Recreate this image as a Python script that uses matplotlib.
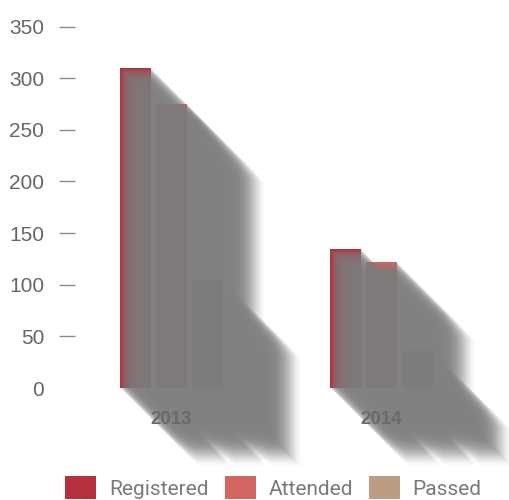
import numpy as np
import matplotlib
matplotlib.use("Agg")
import matplotlib.pyplot as plt
from matplotlib import font_manager

years = ["2013", "2014"]
series_names = ["Registered", "Attended", "Passed"]
registered = [310, 135]
attended = [275, 122]
passed = [105, 36]
series_colors = ["#B3303F", "#D26661", "#BD9C84"]

W, H = 510, 500

# pick a narrow face if the system has one
installed = {f.name for f in font_manager.fontManager.ttflist}
narrow = "Liberation Sans Narrow" if "Liberation Sans Narrow" in installed else "Roboto"
plt.rcParams["font.family"] = [narrow, "DejaVu Sans"]

fig = plt.figure(figsize=(W / 100, H / 100), dpi=100)
ax = fig.add_axes([66.5 / W, 112 / H, 420 / W, 361.4 / H])

x = np.arange(len(years))
slot = 36 / 210
width = 31 / 210
bars = []
for i, (vals, color) in enumerate(zip([registered, attended, passed], series_colors)):
    b = ax.bar(x + (i - 1) * slot, vals, width=width, color=color, zorder=1,
               label=series_names[i])
    bars.append(b)

ax.set_xlim(-0.5, 1.5)
ax.set_ylim(0, 350)
ax.set_yticks(np.arange(0, 351, 50))
ax.set_xticks(x)
ax.set_xticklabels(years)
for s in ax.spines.values():
    s.set_visible(False)

ax.tick_params(axis="y", direction="inout", length=11.5, width=1, color="#8a8a8a",
               labelcolor="#666666", labelsize=15, pad=10.4)
ax.yaxis.get_major_ticks()[0].tick1line.set_visible(False)
ax.tick_params(axis="x", length=0, labelcolor="#6a6a6a", labelsize=13.5, pad=16.5)
for lbl in ax.get_yticklabels():
    lbl.set_fontfamily(["Liberation Sans", "DejaVu Sans"])
for lbl in ax.get_xticklabels():
    lbl.set_fontfamily(["Liberation Sans", "DejaVu Sans"])
    lbl.set_fontweight("bold")

# long diagonal shadow: stacked offset copies of every bar, fading out
L, F, a0, cap = 80, 30, 0.2, 0.96
logT = np.zeros((H, W))
for cont in bars:
    for rect in cont:
        (px0, py0), (px1, py1) = ax.transData.transform(
            [(rect.get_x(), 0), (rect.get_x() + rect.get_width(), rect.get_height())])
        c0, c1 = int(round(px0)), int(round(px1))
        r0, r1 = int(round(H - py1)), int(round(H - py0))
        for t in range(1, L + 1):
            a = a0 * min(1.0, (L - t) / F)
            if a <= 0:
                continue
            rs, re = max(r0 + t, 0), min(r1 + t, H)
            cs, ce = max(c0 + t, 0), min(c1 + t, W)
            if rs < re and cs < ce:
                logT[rs:re, cs:ce] += np.log(1 - a)

alpha = cap * (1 - np.exp(logT))
img = np.zeros((H, W, 4))
img[..., :3] = 123 / 255
img[..., 3] = alpha
# keep the shadow under the axis labels (axis sits at zorder 1.5)
ax.imshow(img, extent=(0, 1, 0, 1), transform=fig.transFigure, aspect="auto",
          interpolation="none", zorder=1.2, clip_on=False)
ax.set_xlim(-0.5, 1.5)
ax.set_ylim(0, 350)

fig.legend(handles=bars, labels=series_names, loc="lower center",
           bbox_to_anchor=(273.5 / W, 0.0), ncol=3, frameon=False, fontsize=15,
           labelcolor="#7a7a7a", handlelength=1.49, handleheight=1.3,
           handletextpad=0.62, columnspacing=0.75, borderpad=0.05, borderaxespad=0)

fig.savefig("out.png", dpi=100)
